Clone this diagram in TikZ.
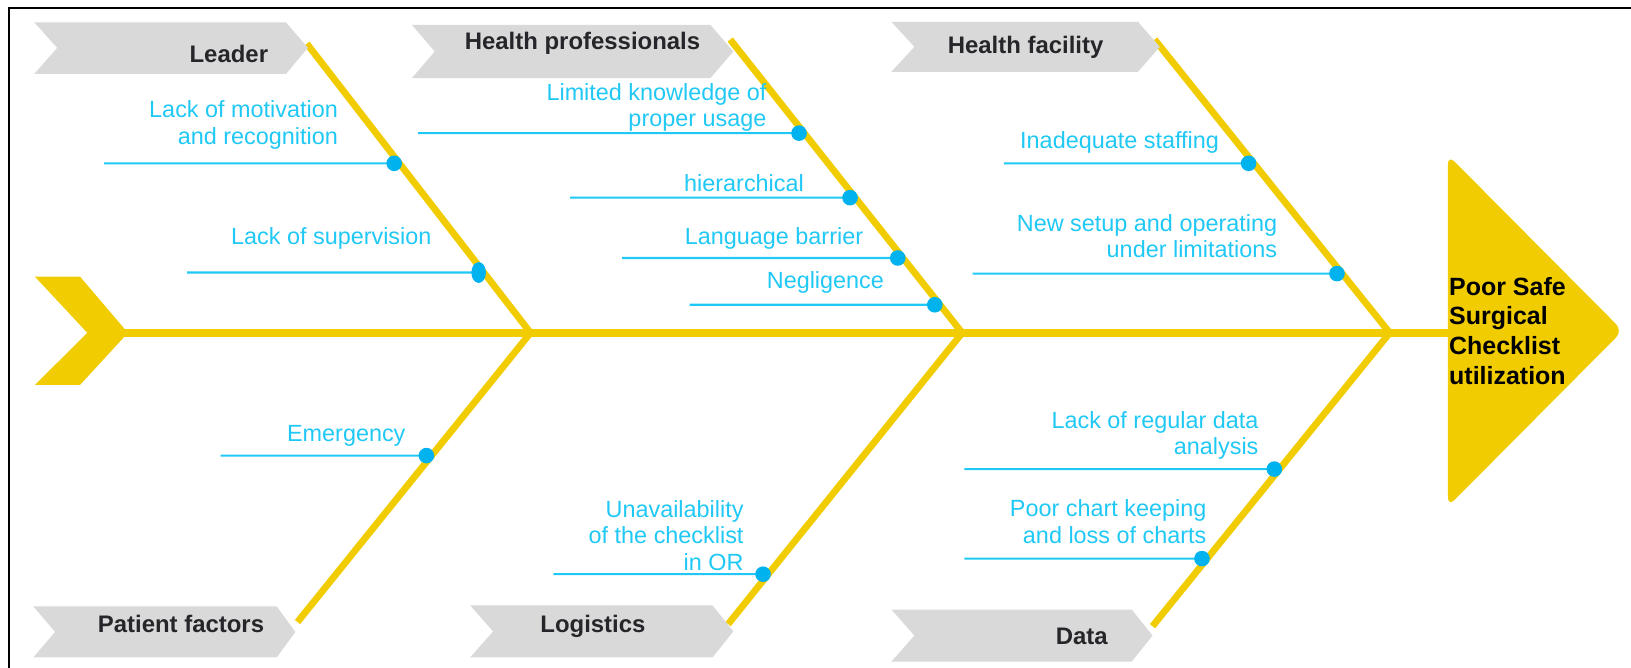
\documentclass[tikz,border=0pt]{standalone}
\usepackage{fontspec}
\setmainfont{Liberation Sans}
\usetikzlibrary{calc}
\definecolor{fishyel}{RGB}{240,204,0}
\definecolor{causecol}{RGB}{32,200,245}
\definecolor{dotcol}{RGB}{0,178,238}
\definecolor{bangray}{RGB}{217,217,217}
\definecolor{bantext}{RGB}{38,38,42}
\begin{document}
\begin{tikzpicture}[x=1pt,y=-1pt,
  bone/.style={draw=fishyel,line width=6.5pt},
  spine/.style={draw=fishyel,line width=7pt},
  causeline/.style={draw=causecol,line width=2pt},
  causedot/.style={fill=dotcol},
  causetext/.style={text=causecol,font=\fontsize{22.5}{25.5}\selectfont,align=right,inner sep=0pt,anchor=east},
  banner/.style={fill=bangray},
  bannertext/.style={text=bantext,font=\bfseries\fontsize{23}{27}\selectfont,inner sep=0pt,anchor=base},
  headtext/.style={text=black,font=\bfseries\fontsize{24}{28.5}\selectfont,align=left,inner sep=0pt,anchor=west}]
\useasboundingbox (0,0) rectangle (1568,642);
% frame
\draw[line width=2pt] (8.5,642) -- (8.5,7.5) -- (1568,7.5);
% tail
\fill[fishyel] (33.6,266) -- (77,266) -- (123,320) -- (77,370) -- (33.6,370) -- (84,320) -- cycle;
% head
\fill[fishyel, rounded corners=9pt] (1392,149) -- (1560,318) -- (1392,487) -- cycle;
\node[headtext] (effect) at (1393,318) {Poor Safe\\Surgical\\Checklist\\utilization};
% spine
\coordinate (tailtip) at (118,320);
\coordinate (headbase) at (1393,320);
\draw[spine] (tailtip) -- (headbase);
% bones
\coordinate (J1) at (510,320);
\coordinate (J2) at (925,320);
\coordinate (J3) at (1336,320);
\coordinate (T1) at (295,42);
\coordinate (T2) at (702,38);
\coordinate (T3) at (1110,38);
\coordinate (B1) at (286,598);
\coordinate (B2) at (700,600);
\coordinate (B3) at (1108,602);
\draw[bone] (T1) -- (J1);
\draw[bone] (T2) -- (J2);
\draw[bone] (T3) -- (J3);
\draw[bone] (J1) -- (B1);
\draw[bone] (J2) -- (B2);
\draw[bone] (J3) -- (B3);
% banners
\fill[banner] (33,21.5) -- (275,21.5) -- (296,46) -- (275,71) -- (33,71) -- (55,46) -- cycle;
\node[bannertext] (leader) at (220,60) {Leader};
\fill[banner] (396,24) -- (683,24) -- (705,49.5) -- (683,75) -- (396,75) -- (418,49.5) -- cycle;
\node[bannertext] (hprof) at (560,48) {Health professionals};
\fill[banner] (857,21) -- (1094,21) -- (1115,45) -- (1094,69) -- (857,69) -- (879,45) -- cycle;
\node[bannertext] (hfac) at (986,51) {Health facility};
\fill[banner] (32,583) -- (266,583) -- (284,607.5) -- (266,632) -- (32,632) -- (53,607.5) -- cycle;
\node[bannertext] (patient) at (174,608) {Patient factors};
\fill[banner] (452,582) -- (685,582) -- (705,607) -- (685,632) -- (452,632) -- (474,607) -- cycle;
\node[bannertext] (logist) at (570,608) {Logistics};
\fill[banner] (857,586) -- (1088,586) -- (1108,611) -- (1088,636) -- (857,636) -- (879,611) -- cycle;
\node[bannertext] (data) at (1040,620) {Data};
% dots, sitting on the left edge of the bones
\coordinate (d1) at ($(T1)!0.4137!(J1)+(-5,0)$);
\coordinate (d2) at ($(T1)!0.7914!(J1)+(-5,0)$);
\coordinate (d3) at ($(T2)!0.3191!(J2)+(-5,0)$);
\coordinate (d4) at ($(T2)!0.5390!(J2)+(-5,0)$);
\coordinate (d5) at ($(T2)!0.7447!(J2)+(-5,0)$);
\coordinate (d6) at ($(T2)!0.9043!(J2)+(-5,0)$);
\coordinate (d7) at ($(T3)!0.4220!(J3)+(-5,0)$);
\coordinate (d8) at ($(T3)!0.7979!(J3)+(-5,0)$);
\coordinate (d9) at ($(J1)!0.4245!(B1)+(-5,0)$);
\coordinate (d10) at ($(J2)!0.8286!(B2)+(-5,0)$);
\coordinate (d11) at ($(J3)!0.4645!(B3)+(-5,0)$);
\coordinate (d12) at ($(J3)!0.7695!(B3)+(-5,0)$);
% cause line starts
\coordinate (c1) at (100,157);
\coordinate (c2) at (180,262);
\coordinate (c3) at (402,128);
\coordinate (c4) at (548,190);
\coordinate (c5) at (598,248);
\coordinate (c6) at (663,293);
\coordinate (c7) at (965,157);
\coordinate (c8) at (935,263);
\coordinate (c9) at (212,438);
\coordinate (c10) at (532,552);
\coordinate (c11) at (927,451);
\coordinate (c12) at (927,537);
\foreach \i in {1,...,12} {\draw[causeline] (c\i) -- (d\i);}
\foreach \i in {1,3,4,5,6,7,8,9,10,11,12} {\fill[causedot] (d\i) circle (7.5);}
\fill[causedot] (d2) ellipse [x radius=7, y radius=10];
% cause texts
\node[causetext] (t1) at (325,120) {Lack of motivation\\and recognition};
\node[causetext] (t2) at (415,229) {Lack of supervision};
\node[causetext] (t3) at (737,103.5) {Limited knowledge of\\proper usage};
\node[causetext] (t4) at (773,176) {hierarchical};
\node[causetext] (t5) at (830,229) {Language barrier};
\node[causetext] (t6) at (850,272) {Negligence};
\node[causetext] (t7) at (1172,137) {Inadequate staffing};
\node[causetext] (t8) at (1228,227) {New setup and operating\\under limitations};
\node[causetext] (t9) at (390,419) {Emergency};
\node[causetext] (t10) at (715,514.5) {Unavailability\\of the checklist\\in OR};
\node[causetext] (t11) at (1210,418.5) {Lack of regular data\\analysis};
\node[causetext] (t12) at (1160,501.5) {Poor chart keeping\\and loss of charts};
\end{tikzpicture}
\end{document}
